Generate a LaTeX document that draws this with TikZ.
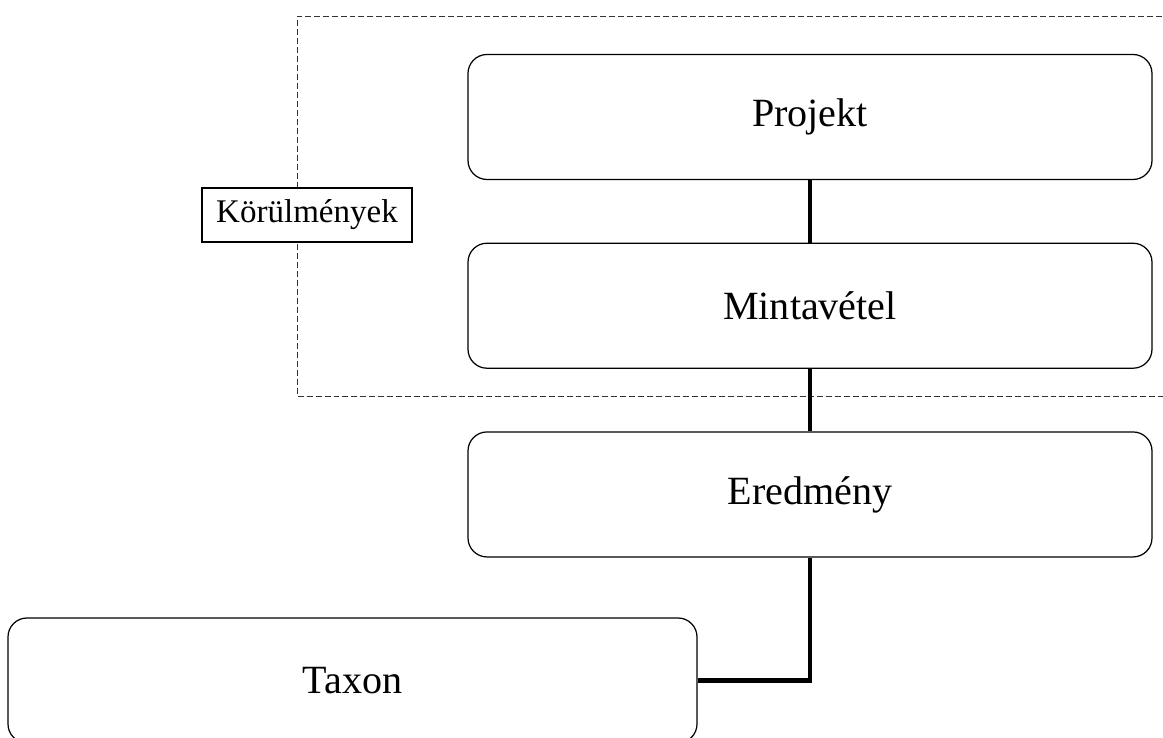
\documentclass[tikz,border=0pt]{standalone}
\usepackage{fontspec}
\setmainfont{Liberation Serif}
\usetikzlibrary{positioning}

\begin{document}
\begin{tikzpicture}[
  entity/.style = {shape=rectangle, rounded corners=0.38cm, draw, line width=0.7pt,
    minimum width=13.68cm, minimum height=2.5cm, font=\fontsize{22.8}{27}\selectfont},
  context/.style = {shape=rectangle, draw, fill=white, line width=0.6pt, inner sep=0pt,
    minimum width=4.2cm, minimum height=1.08cm, font=\fontsize{18.8}{22}\selectfont},
  link/.style = {line width=2.3pt}]

  \useasboundingbox (0,0) rectangle (23.26,14.76);

  \draw[dash pattern=on 3.4pt off 1.7pt, line width=0.5pt, black!80]
    (23.6,14.44) -| (5.94,6.84) -- (23.6,6.84);
  \node[context] (korul) at (6.14,10.46) {Körülmények};

  \node[entity] (projekt) at (16.2,12.42) {Projekt};
  \node[entity, below=1.25cm of projekt] (minta) {Mintavétel};
  \node[entity, below=1.25cm of minta] (ered) {Eredmény};
  \node[entity, minimum width=13.78cm] (taxon) at (7.05,1.15) {Taxon};

  \draw[link] (projekt) -- (minta);
  \draw[link] (minta) -- (ered);
  \draw[link] (ered) |- (taxon);
\end{tikzpicture}
\end{document}
